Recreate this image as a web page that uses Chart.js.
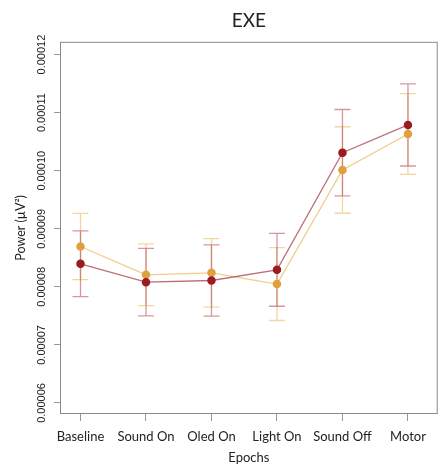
<!DOCTYPE html>
<html>
<head>
<meta charset="utf-8">
<script src="https://cdn.jsdelivr.net/npm/chart.js@4/dist/chart.umd.min.js"></script>
<style>
  html, body { margin: 0; padding: 0; background: #fff; }
  #wrap { width: 443px; height: 466px; }
</style>
</head>
<body>
<div id="wrap"><canvas id="chart"></canvas></div>
<script>
// Epoch names along the x axis
const epochs = ['Baseline', 'Sound On', 'Oled On', 'Light On', 'Sound Off', 'Motor'];

// Mean power per epoch and its error (µV²)
const redMean   = [0.00008397, 0.00008081, 0.00008109, 0.00008293, 0.00010310, 0.00010788];
const redErr    = [0.00000566, 0.00000580, 0.00000615, 0.00000627, 0.00000744, 0.00000707];
const goldMean  = [0.00008695, 0.00008207, 0.00008241, 0.00008047, 0.00010012, 0.00010633];
const goldErr   = [0.00000570, 0.00000532, 0.00000590, 0.00000627, 0.00000745, 0.00000695];

// y axis tick values
const yTicks = [0.00006, 0.00007, 0.00008, 0.00009, 0.00010, 0.00011, 0.00012];

function toPoints(means) {
  return means.map((v, i) => ({ x: i + 1, y: v }));
}

// error bars with caps, drawn under the lines and points
const errorBars = {
  id: 'errorBars',
  beforeDatasetsDraw(chart) {
    const ctx = chart.ctx;
    const xs = chart.scales.x, ys = chart.scales.y;
    chart.data.datasets.forEach(ds => {
      ctx.save();
      ctx.strokeStyle = ds.errColor;
      ctx.lineWidth = 1.3;
      ds.data.forEach((p, i) => {
        const x = xs.getPixelForValue(p.x);
        const top = ys.getPixelForValue(p.y + ds.err[i]);
        const bot = ys.getPixelForValue(p.y - ds.err[i]);
        ctx.beginPath();
        ctx.moveTo(x, top); ctx.lineTo(x, bot);
        ctx.moveTo(x - 8, top); ctx.lineTo(x + 8, top);
        ctx.moveTo(x - 8, bot); ctx.lineTo(x + 8, bot);
        ctx.stroke();
      });
      ctx.restore();
    });
  }
};

// frame around the plot and rotated y tick labels
const frame = {
  id: 'frame',
  afterDraw(chart) {
    const ctx = chart.ctx, a = chart.chartArea, ys = chart.scales.y;
    ctx.save();
    ctx.strokeStyle = '#8a8a8a';
    ctx.lineWidth = 1;
    ctx.strokeRect(a.left + 0.5, a.top + 0.5, a.right - a.left - 1, a.bottom - a.top - 1);
    ctx.fillStyle = '#222';
    ctx.font = '11px "Liberation Sans", Arial, sans-serif';
    ctx.textAlign = 'center';
    ctx.textBaseline = 'middle';
    yTicks.forEach(v => {
      const y = ys.getPixelForValue(v);
      ctx.save();
      ctx.translate(42, y);
      ctx.rotate(-Math.PI / 2);
      ctx.fillText(v.toFixed(5), 0, 0);
      ctx.restore();
    });
    ctx.restore();
  }
};

new Chart(document.getElementById('chart'), {
  type: 'line',
  data: {
    datasets: [
      {
        label: 'gold',
        data: toPoints(goldMean),
        err: goldErr,
        errColor: 'rgba(240, 200, 130, 0.75)',
        borderColor: 'rgba(240, 198, 125, 0.9)',
        borderWidth: 1.3,
        pointBackgroundColor: '#e0a03e',
        pointBorderColor: '#e0a03e',
        pointRadius: 3.6,
        order: 2
      },
      {
        label: 'red',
        data: toPoints(redMean),
        err: redErr,
        errColor: 'rgba(175, 70, 80, 0.55)',
        borderColor: 'rgba(180, 85, 95, 0.85)',
        borderWidth: 1.3,
        pointBackgroundColor: '#9b1b20',
        pointBorderColor: '#9b1b20',
        pointRadius: 3.6,
        order: 1
      }
    ]
  },
  options: {
    responsive: true,
    maintainAspectRatio: false,
    animation: false,
    layout: { padding: { left: 0, right: 2, top: 0, bottom: 0 } },
    plugins: {
      legend: { display: false },
      tooltip: { enabled: false },
      title: {
        display: true,
        text: 'EXE',
        fullSize: false,
        color: '#222',
        font: { family: 'Lato, "Open Sans", sans-serif', size: 19, weight: 'normal' },
        padding: { top: 9, bottom: 10 }
      }
    },
    scales: {
      x: {
        type: 'linear',
        min: 0.687,
        max: 6.454,
        afterBuildTicks: s => { s.ticks = epochs.map((_, i) => ({ value: i + 1 })); },
        afterFit: s => { s.height = 52; },
        border: { display: false },
        grid: { drawOnChartArea: false, tickLength: 7, color: '#999' },
        ticks: {
          padding: 8,
          color: '#222',
          maxRotation: 0,
          font: { family: 'Lato, "Open Sans", sans-serif', size: 13 },
          callback: v => epochs[v - 1]
        },
        title: {
          display: true,
          text: 'Epochs',
          color: '#222',
          font: { family: 'Lato, "Open Sans", sans-serif', size: 13, lineHeight: 1 },
          padding: { top: 0, bottom: 2 }
        }
      },
      y: {
        min: 0.0000581,
        max: 0.0001222,
        afterBuildTicks: s => { s.ticks = yTicks.map(v => ({ value: v })); },
        afterFit: s => { s.width = 60; },
        border: { display: false },
        grid: { drawOnChartArea: false, tickLength: 6, color: '#999' },
        ticks: { display: false },
        title: {
          display: true,
          text: 'Power (µV²)',
          color: '#222',
          font: { family: 'Lato, "Open Sans", sans-serif', size: 12.5 },
          padding: { top: 13, bottom: 0 }
        }
      }
    }
  },
  plugins: [errorBars, frame]
});
</script>
</body>
</html>
